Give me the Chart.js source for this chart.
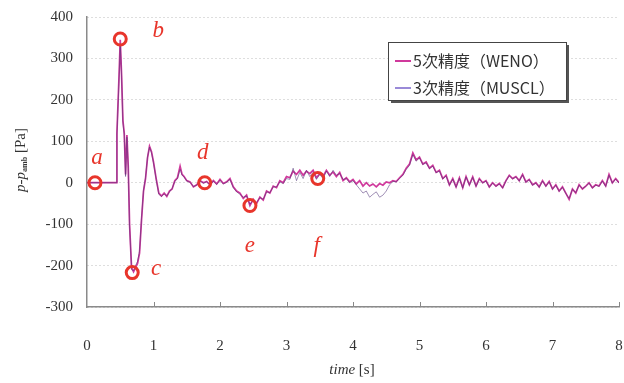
<!DOCTYPE html>
<html>
<head>
<meta charset="utf-8">
<script src="https://cdn.jsdelivr.net/npm/chart.js@4/dist/chart.umd.min.js"></script>
<style>
  html, body { margin: 0; padding: 0; background: #fff; overflow: hidden; }
  #wrap { width: 624px; height: 383px; position: relative; overflow: hidden; }
  #wrap canvas { display: block; }
</style>
</head>
<body>
<div id="wrap"><canvas id="pressure-chart"></canvas></div>
<script>
'use strict';

// time axis [s]
const time = [
    0, 0.1, 0.2, 0.3, 0.4, 0.445,
    0.45, 0.48, 0.5, 0.52, 0.54, 0.56, 0.58, 0.6, 0.62, 0.64, 0.67, 0.7, 0.73, 0.76, 0.79,
    0.82, 0.85, 0.88, 0.91, 0.94, 0.97, 1.0, 1.04, 1.08, 1.12, 1.16, 1.2, 1.24, 1.28, 1.32,
    1.36, 1.4, 1.43, 1.46, 1.5, 1.55, 1.6, 1.65, 1.7, 1.75, 1.8, 1.85, 1.9, 1.95,
    2.0, 2.05, 2.1, 2.15, 2.2, 2.25, 2.3, 2.35, 2.4, 2.45, 2.5, 2.55, 2.6, 2.65, 2.7, 2.75, 2.8, 2.85, 2.9, 2.95,
    3.0, 3.05, 3.1, 3.15, 3.2, 3.25, 3.3, 3.35, 3.4, 3.45, 3.5, 3.55, 3.6, 3.65, 3.7, 3.75, 3.8, 3.85, 3.9, 3.95,
    4.0, 4.05, 4.1, 4.15, 4.2, 4.25, 4.3, 4.35, 4.4, 4.45, 4.5, 4.55, 4.6, 4.65, 4.7, 4.75, 4.8, 4.85, 4.9, 4.95,
    5.0, 5.05, 5.1, 5.15, 5.2, 5.25, 5.3, 5.35, 5.4, 5.45, 5.5, 5.55, 5.6, 5.65, 5.7, 5.75, 5.8, 5.85, 5.9, 5.95,
    6.0, 6.05, 6.1, 6.15, 6.2, 6.25, 6.3, 6.35, 6.4, 6.45, 6.5, 6.55, 6.6, 6.65, 6.7, 6.75, 6.8, 6.85, 6.9, 6.95,
    7.0, 7.05, 7.1, 7.15, 7.2, 7.25, 7.3, 7.35, 7.4, 7.45, 7.5, 7.55, 7.6, 7.65, 7.7, 7.75, 7.8, 7.85, 7.9, 7.95,
    8.0
]

// p - p_amb [Pa], 5th order (WENO)
const weno = [
    0, 0, 0, 0, 0, 0,
    120, 250, 345, 260, 150, 120, 20, 115, 40, -100, -205, -215, -205, -195, -170,
    -90, -20, 10, 60, 88, 75, 50, 10, -25, -32, -25, -33, -20, -15, 5,
    12, 40, 20, 15, 5, 2, -10, -5, 5, 0, 3, -5, 5, -3,
    8, -2, 2, 10, -10, -20, -25, -38, -30, -55, -40, -50, -35, -42, -20, -25, -8, -12, 5, 0,
    15, 12, 28, 20, 30, 18, 28, 22, 30, 12, 22, 15, 30, 18, 26, 15, 25, 5, 12, 2,
    8, -3, 5, -8, 0, -8, -3, -10, -2, -6, 2, 0, 5, 3, 12, 20, 35, 45, 72, 55,
    62, 45, 50, 35, 42, 25, 30, 10, 18, -5, 10, -10, 12, -12, 15, -5, 14, -8, 10, 0,
    5, -10, 0, -8, -2, -12, 5, 18, 10, 15, 5, 20, 2, 8, -5, 0, -10, 5, -8, 3,
    -15, -5, -20, -10, -25, -40, -15, -25, -5, -15, -8, 0, -12, -5, -8, 5, -8, 20, 0, 10,
    0
]

// p - p_amb [Pa], 3rd order (MUSCL)
const muscl = [
    0, 0, 0, 0, 0, 0,
    115, 240, 335, 255, 145, 115, 15, 110, 35, -105, -210, -212, -200, -190, -165,
    -85, -18, 12, 62, 86, 72, 48, 8, -28, -33, -27, -32, -22, -14, 3,
    10, 32, 18, 14, 4, 1, -9, -6, 4, -1, 2, -6, 4, -4,
    6, -3, 1, 8, -12, -22, -28, -35, -32, -52, -42, -48, -36, -40, -22, -24, -10, -10, 2, -2,
    10, 8, 35, 5, 25, 10, 30, 15, 25, 8, 20, 10, 28, 15, 30, 18, 22, 8, 10, 0,
    5, -5, -15, -25, -20, -35, -28, -22, -35, -30, -20, -5, 3, 2, 10, 18, 32, 42, 68, 52,
    60, 44, 48, 34, 40, 24, 28, 9, 16, -6, 9, -11, 11, -13, 14, -6, 13, -9, 9, -1,
    4, -11, -1, -9, -3, -13, 4, 17, 9, 14, 4, 19, 1, 7, -6, -1, -11, 4, -9, 2,
    -16, -6, -21, -11, -26, -38, -16, -24, -6, -14, -9, -1, -13, -6, -9, 4, -9, 18, -1, 9,
    -1
]

// marked instants a - f
const markLetters = ['a', 'b', 'c', 'd', 'e', 'f']
const markTimes = [0.12, 0.5, 0.68, 1.77, 2.45, 3.47]
const markValues = [0, 347, -217, 0, -55, 10]

const seriesLabels = ['5次精度（WENO）', '3次精度（MUSCL）']
const yTicks = [-300, -200, -100, 0, 100, 200, 300, 400]
const xTicks = [0, 1, 2, 3, 4, 5, 6, 7, 8]

const serif = "'Liberation Serif', 'DejaVu Serif', serif"
const cjk = "'Noto Sans CJK JP', 'Liberation Serif', serif"
const markRed = '#e8352b'

// letter offsets from their circles (px)
const letterOffsets = {
    a: [2, -25], b: [38, -8], c: [24, -4], d: [-2, -30], e: [0, 40], f: [-1, 67]
}

const toPoints = (values) => time.map((t, i) => ({ x: t, y: values[i] }))

// legend, titles, tick marks and letters

const decorPlugin = {
    id: 'decor',
    afterDatasetsDraw(chart) {
        const { ctx, scales: { x, y }, chartArea } = chart

        // small inward tick marks on the time axis
        ctx.save()
        ctx.strokeStyle = '#888'
        ctx.lineWidth = 1
        xTicks.forEach(t => {
            if (t === 0) return
            const px = Math.round(x.getPixelForValue(t)) + 0.5
            ctx.beginPath()
            ctx.moveTo(px, chartArea.bottom)
            ctx.lineTo(px, chartArea.bottom - 5)
            ctx.stroke()
        })

        // letters next to the red circles
        ctx.fillStyle = markRed
        ctx.font = `italic 23px ${serif}`
        ctx.textAlign = 'center'
        ctx.textBaseline = 'middle'
        markLetters.forEach((letter, i) => {
            const [dx, dy] = letterOffsets[letter]
            ctx.fillText(letter, x.getPixelForValue(markTimes[i]) + dx, y.getPixelForValue(markValues[i]) + dy)
        })

        // legend box with shadow
        const bx = 388, by = 42, bw = 178, bh = 58
        ctx.fillStyle = '#555'
        ctx.fillRect(bx + 3, by + 3, bw, bh)
        ctx.fillStyle = '#fff'
        ctx.fillRect(bx, by, bw, bh)
        ctx.strokeStyle = '#444'
        ctx.strokeRect(bx + 0.5, by + 0.5, bw, bh)

        ctx.textAlign = 'left'
        ctx.font = `16px ${cjk}`
        chart.data.datasets.slice(0, 2).forEach((ds, i) => {
            const rowY = by + 19 + i * 27
            ctx.strokeStyle = i === 0 ? '#d0399c' : '#9a8ad8'
            ctx.lineWidth = 2
            ctx.beginPath()
            ctx.moveTo(bx + 7, rowY)
            ctx.lineTo(bx + 23, rowY)
            ctx.stroke()
            ctx.fillStyle = '#333'
            ctx.fillText(ds.label, bx + 25, rowY)
        })

        // x title: time [s]
        ctx.fillStyle = '#333'
        ctx.textBaseline = 'middle'
        ctx.font = `italic 15px ${serif}`
        const tw = ctx.measureText('time ').width
        ctx.font = `15px ${serif}`
        const sw = ctx.measureText('[s]').width
        const cx = 352 - (tw + sw) / 2
        ctx.font = `italic 15px ${serif}`
        ctx.fillText('time ', cx, 370)
        ctx.font = `15px ${serif}`
        ctx.fillText('[s]', cx + tw, 370)

        // y title: p-p_amb [Pa]
        ctx.translate(21, 160)
        ctx.rotate(-Math.PI / 2)
        const parts = [
            { text: 'p-p', font: `italic 15px ${serif}`, dy: 0 },
            { text: 'amb', font: `bold 8px ${serif}`, dy: 4 },
            { text: ' [Pa]', font: `15px ${serif}`, dy: 0 }
        ]
        let total = 0
        parts.forEach(p => { ctx.font = p.font; p.w = ctx.measureText(p.text).width; total += p.w })
        let px = -total / 2
        parts.forEach(p => {
            ctx.font = p.font
            ctx.fillText(p.text, px, p.dy)
            px += p.w
        })
        ctx.restore()
    }
}

new Chart(document.getElementById('pressure-chart'), {
    type: 'line',
    data: {
        datasets: [
            {
                label: seriesLabels[0],
                data: toPoints(weno),
                borderColor: '#d0399c',
                borderWidth: 1.7,
                pointRadius: 0,
                order: 2
            },
            {
                label: seriesLabels[1],
                data: toPoints(muscl),
                borderColor: 'rgba(80, 50, 120, 0.6)',
                borderWidth: 0.9,
                pointRadius: 0,
                order: 1
            },
            {
                label: 'marks',
                data: markTimes.map((t, i) => ({ x: t, y: markValues[i] })),
                showLine: false,
                pointRadius: 6,
                pointBorderWidth: 3,
                pointBorderColor: markRed,
                pointBackgroundColor: 'rgba(0,0,0,0)',
                order: 0
            }
        ]
    },
    options: {
        responsive: true,
        maintainAspectRatio: false,
        animation: false,
        layout: { autoPadding: false, padding: { top: 17, right: 5, left: 0, bottom: 0 } },
        plugins: {
            legend: { display: false },
            tooltip: { enabled: false }
        },
        scales: {
            x: {
                type: 'linear',
                min: 0,
                max: 8,
                afterFit: scale => {
                    scale.height = 76
                    scale.paddingLeft = 0
                    scale.paddingRight = 0
                },
                afterBuildTicks: scale => { scale.ticks = xTicks.map(v => ({ value: v })) },
                ticks: {
                    padding: 22,
                    maxRotation: 0,
                    color: '#333',
                    font: { family: serif, size: 15 }
                },
                grid: { display: false },
                border: { display: true, color: '#8a8a8a', width: 1.5 }
            },
            y: {
                min: -300,
                max: 400,
                afterFit: scale => {
                    scale.width = 87
                    scale.paddingTop = 0
                    scale.paddingBottom = 0
                },
                afterBuildTicks: scale => { scale.ticks = yTicks.map(v => ({ value: v })) },
                ticks: {
                    padding: 14,
                    color: '#333',
                    font: { family: serif, size: 15 }
                },
                grid: { color: '#bdbdbd', lineWidth: 1, drawTicks: false },
                border: { display: true, color: '#8a8a8a', width: 1.5, dash: [1, 3] }
            }
        }
    },
    plugins: [decorPlugin]
});
</script>
</body>
</html>
